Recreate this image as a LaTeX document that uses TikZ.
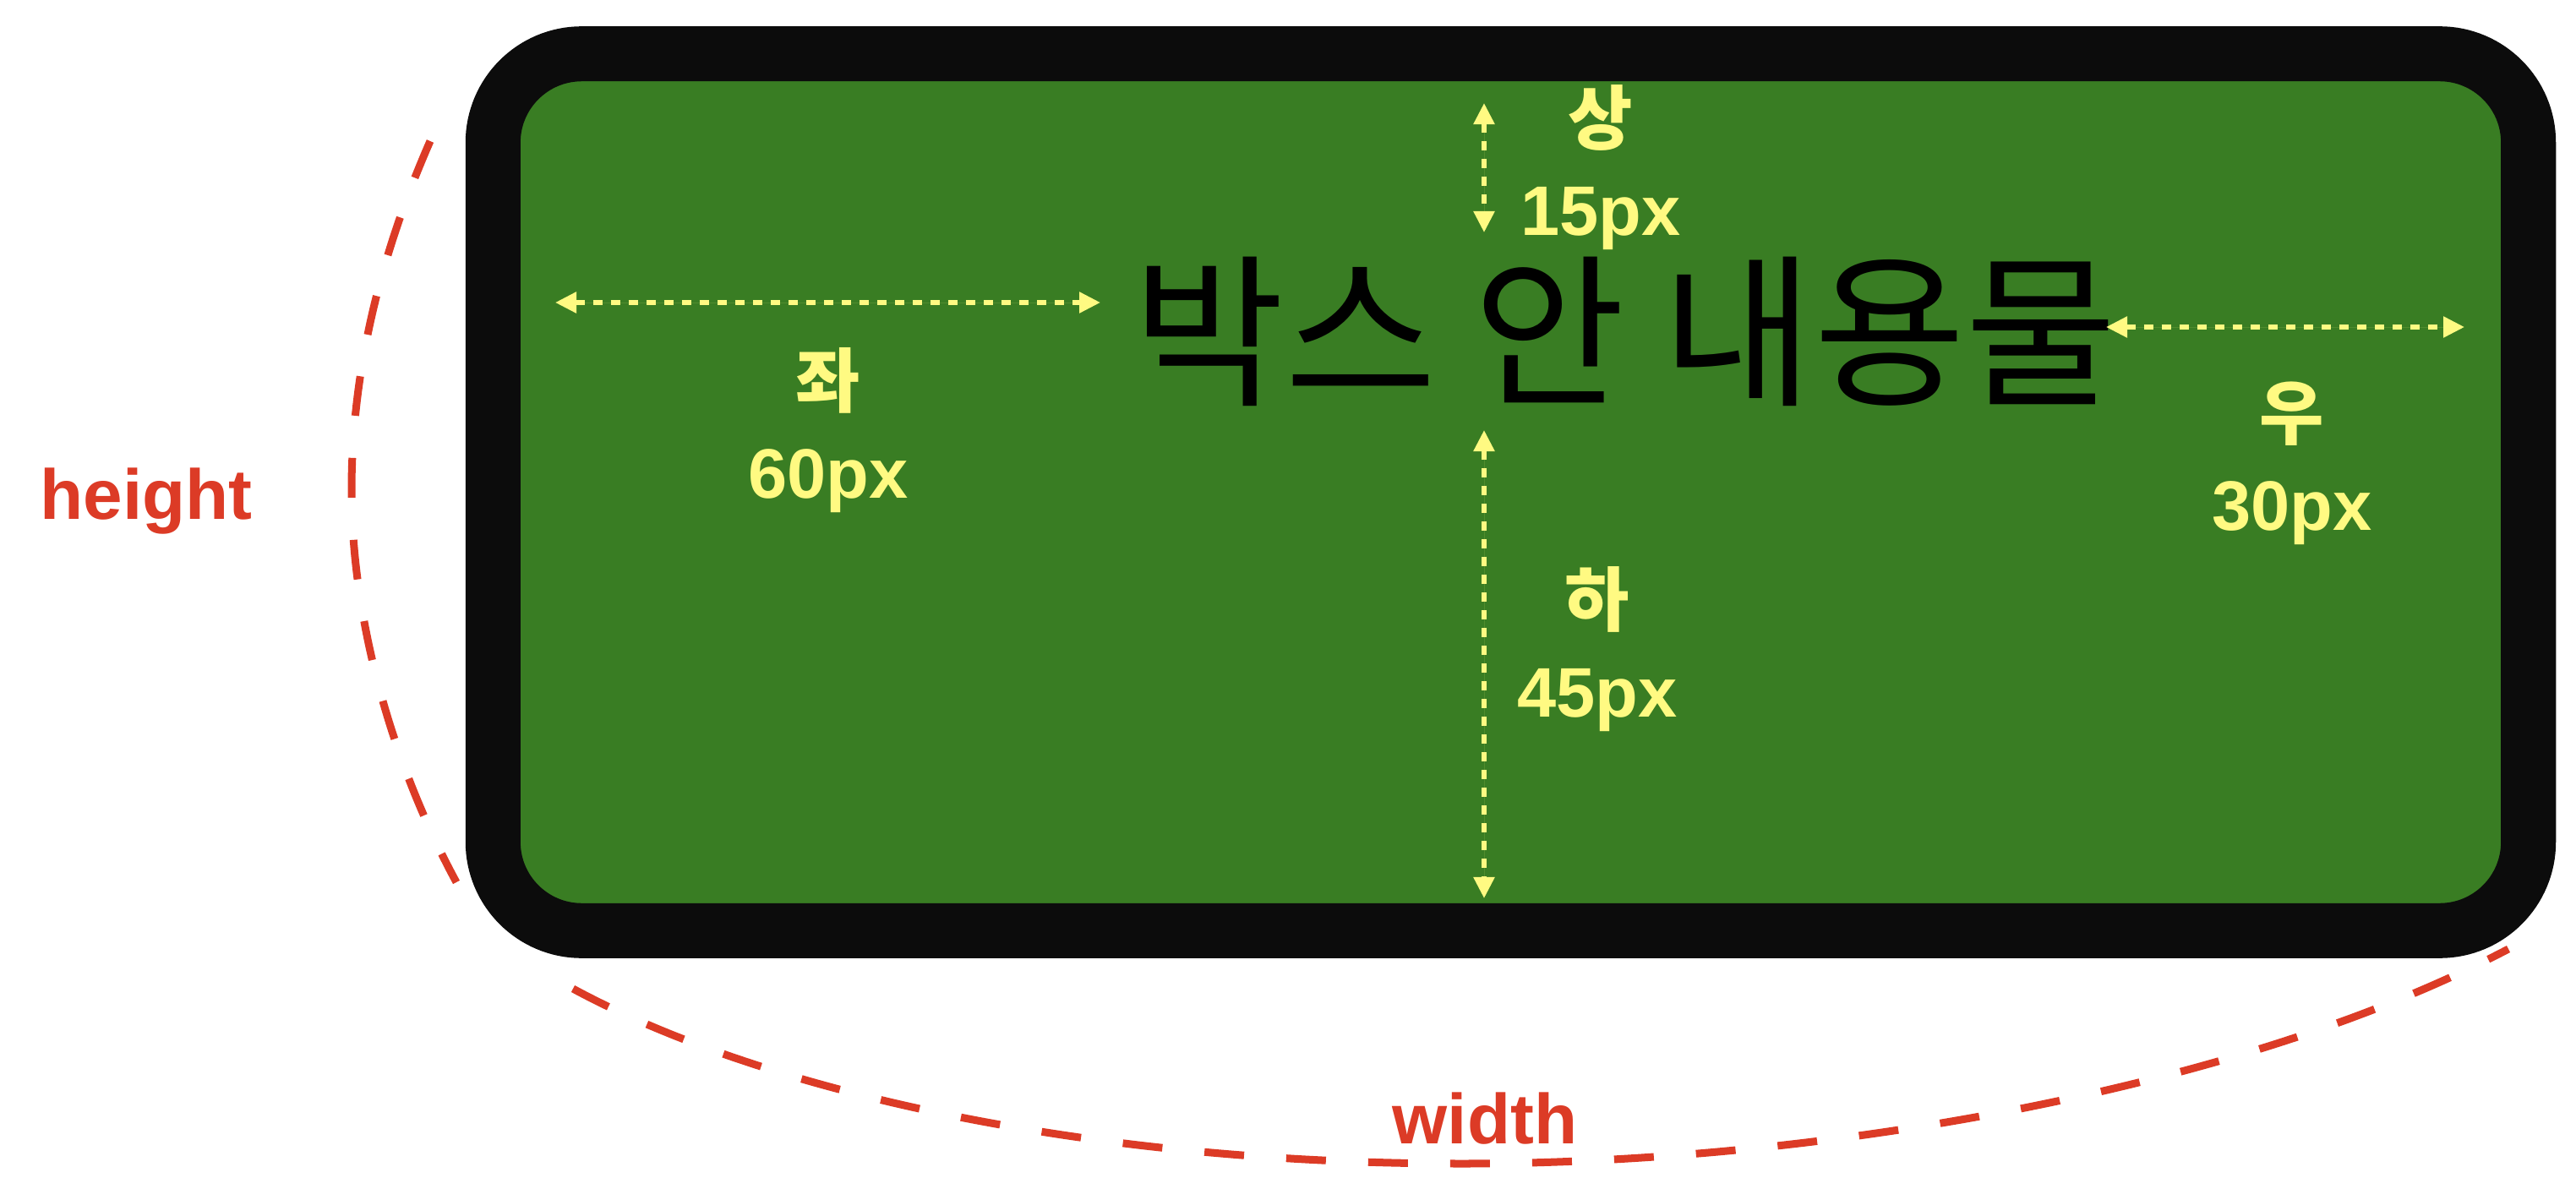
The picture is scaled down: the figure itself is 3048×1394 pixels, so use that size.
\documentclass[tikz,border=0pt]{standalone}
\usepackage{fontspec}
\setmainfont{Liberation Sans}
\newfontfamily\kofont{Noto Sans CJK KR}
\usetikzlibrary{arrows.meta}
\definecolor{boxgreen}{RGB}{57,125,35}
\definecolor{boxblack}{RGB}{12,12,12}
\definecolor{padyellow}{RGB}{255,250,130}
\definecolor{sizered}{RGB}{220,59,38}

\begin{document}
\begin{tikzpicture}[x=0.01cm,y=-0.01cm,
  pad/.style={<->,>={Triangle[width=0.24cm,length=0.25cm]},draw=padyellow,
    fill=padyellow,line width=0.055cm,dash pattern=on 0.11cm off 0.10cm},
  padlabel/.style={text=padyellow,align=center,inner sep=0pt,
    font=\fontsize{23.6}{30.7}\selectfont\bfseries},
  sizelabel/.style={text=sizered,inner sep=0pt,font=\fontsize{23.8}{28}\selectfont\bfseries},
  sizearc/.style={draw=sizered,line width=0.09cm,dash pattern=on 0.47cm off 0.5cm}]
  \useasboundingbox (0,0) rectangle (3048,1394);

  % the box
  \node[draw=boxblack,fill=boxgreen,line width=0.65cm,rounded corners=1.05cm,
        minimum width=24.07cm,minimum height=10.37cm,inner sep=0pt,outer sep=0pt]
        (box) at (1787.5,582.5) {};
  \node[inner sep=0pt,font=\kofont\fontsize{55.5}{60}\selectfont] (content) at (1923,392) {박스 안 내용물};

  % padding arrows
  \coordinate (padtopA) at (1756,122);
  \coordinate (padtopB) at (1756,275);
  \coordinate (padbotA) at (1756,509);
  \coordinate (padbotB) at (1756,1063);
  \coordinate (padleftA) at (657,358);
  \coordinate (padleftB) at (1302,358);
  \coordinate (padrightA) at (2492,387);
  \coordinate (padrightB) at (2916,387);

  \draw[pad] (padtopA) -- (padtopB);
  \draw[pad] (padbotA) -- (padbotB);
  \draw[pad] (padleftA) -- (padleftB);
  \draw[pad] (padrightA) -- (padrightB);

  \node[padlabel] (padtop)   at (1894,198) {{\kofont 상}\\15px};
  \node[padlabel] (padleft)  at (980,509)  {{\kofont 좌}\\60px};
  \node[padlabel] (padright) at (2712,548) {{\kofont 우}\\30px};
  \node[padlabel] (padbot)   at (1890,768) {{\kofont 하}\\45px};

  % size arcs
  \coordinate (hTop) at (509,167);
  \coordinate (hMid) at (416,580);
  \coordinate (hBot) at (540,1044);
  \coordinate (wLeft) at (678,1170);
  \coordinate (wMid) at (1730,1377);
  \coordinate (wRight) at (2968,1123);

  \draw[sizearc] (hTop) .. controls (455,290) and (416,430) .. (hMid)
                        .. controls (416,730) and (462,900) .. (hBot);
  \draw[sizearc] (wLeft) .. controls (900,1290) and (1280,1377) .. (wMid)
                         .. controls (2150,1377) and (2650,1290) .. (wRight);

  \node[sizelabel] (height) at (173,593) {height};
  \node[sizelabel] (width) at (1757,1324) {width};
\end{tikzpicture}
\end{document}
